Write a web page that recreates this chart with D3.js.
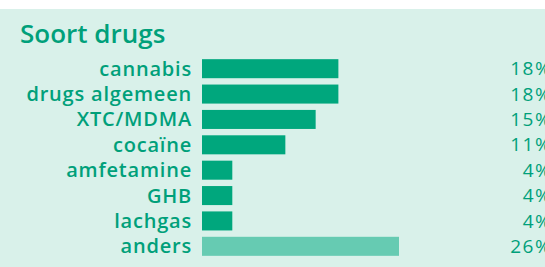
<!DOCTYPE html>
<html>
<head>
<meta charset="utf-8">
<script src="https://cdn.jsdelivr.net/npm/d3@7"></script>
<style>
  html, body { margin: 0; padding: 0; background: #ffffff; }
  svg { display: block; }
</style>
</head>
<body>
<div id="chart"></div>
<script>
// Chart data
const categories = ['cannabis', 'drugs algemeen', 'XTC/MDMA', 'cocaïne', 'amfetamine', 'GHB', 'lachgas', 'anders'];
const percentages = [18, 18, 15, 11, 4, 4, 4, 26];
const highlight = [false, false, false, false, false, false, false, true];
const title = 'Soort drugs';

const width = 545, height = 267;
const green = '#00a77d';
const lightGreen = '#66cbb2';
const textGreen = '#00a07a';

const svg = d3.select('#chart')
    .append('svg')
    .attr('width', width)
    .attr('height', height);

// Mint background panel
svg.append('rect')
    .attr('x', 0)
    .attr('y', 9)
    .attr('width', width)
    .attr('height', height - 9)
    .attr('fill', '#d9f1ea');

// Title
svg.append('text')
    .attr('x', 20)
    .attr('y', 43)
    .style('font-family', '"Open Sans", sans-serif')
    .style('font-weight', 600)
    .style('font-size', '26px')
    .style('fill', textGreen)
    .text(title);

// Scales
const x = d3.scaleLinear()
    .domain([0, 26])
    .range([202, 399]);

const y = d3.scaleBand()
    .domain(categories)
    .range([56, 259])
    .paddingInner(0.25)
    .paddingOuter(0.125);

// Bars
svg.selectAll('rect.bar')
    .data(categories)
    .enter()
    .append('rect')
    .attr('class', 'bar')
    .attr('x', x(0))
    .attr('y', d => y(d))
    .attr('width', (d, i) => x(percentages[i]) - x(0))
    .attr('height', y.bandwidth())
    .attr('fill', (d, i) => highlight[i] ? lightGreen : green);

// Category labels
svg.selectAll('text.label')
    .data(categories)
    .enter()
    .append('text')
    .attr('class', 'label')
    .attr('x', 192)
    .attr('y', d => y(d) + y.bandwidth() / 2)
    .attr('dy', '0.35em')
    .attr('text-anchor', 'end')
    .style('font-family', '"Open Sans", sans-serif')
    .style('font-weight', 600)
    .style('font-size', '20px')
    .style('letter-spacing', '0.8px')
    .style('fill', textGreen)
    .text(d => d);

// Percentage values (right edge clipped like the original)
svg.selectAll('text.value')
    .data(categories)
    .enter()
    .append('text')
    .attr('class', 'value')
    .attr('x', 552)
    .attr('y', d => y(d) + y.bandwidth() / 2)
    .attr('dy', '0.35em')
    .attr('text-anchor', 'end')
    .style('font-family', '"Open Sans", sans-serif')
    .style('font-size', '19px')
    .style('letter-spacing', '1.4px')
    .style('fill', textGreen)
    .text((d, i) => percentages[i] + '%');
</script>
</body>
</html>
